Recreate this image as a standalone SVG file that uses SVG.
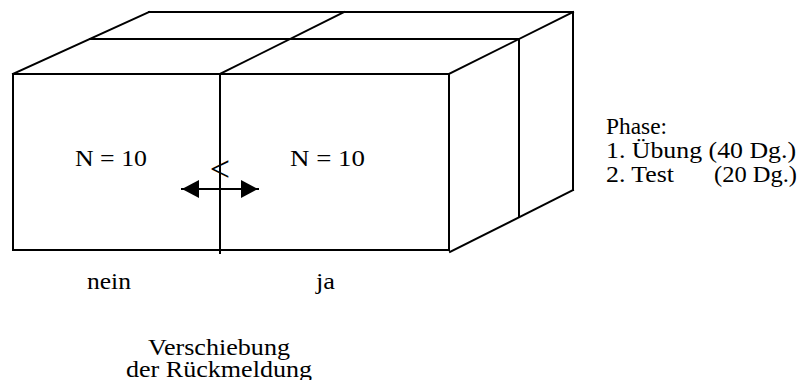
<svg xmlns="http://www.w3.org/2000/svg" width="798" height="380" viewBox="0 0 798 380">
<style>
.ln{stroke:#000;stroke-width:2;fill:none;stroke-linecap:square}
.t{font-family:"Liberation Serif","Times New Roman",serif;font-size:24px;fill:#000}
.c{text-anchor:middle}
</style>
<defs>
<marker id="ah" markerUnits="userSpaceOnUse" viewBox="0 0 17 18" refX="17" refY="9" markerWidth="17" markerHeight="18" orient="auto-start-reverse">
<path d="M0,0 L17,9 L0,18 z" fill="#000"/>
</marker>
</defs>
<rect width="798" height="380" fill="#fff"/>
<g id="box">
<rect class="ln" x="13" y="74" width="436" height="176"/>
<line class="ln" x1="220" y1="74" x2="220" y2="253"/>
<line class="ln" x1="13" y1="74" x2="149" y2="12"/>
<line class="ln" x1="149" y1="12" x2="573" y2="12"/>
<line class="ln" x1="449" y1="74" x2="573" y2="12"/>
<line class="ln" x1="90" y1="39" x2="519" y2="39"/>
<line class="ln" x1="220" y1="74" x2="344" y2="12"/>
<line class="ln" x1="519" y1="39" x2="519" y2="216"/>
<line class="ln" x1="573" y1="12" x2="573" y2="190"/>
<line class="ln" x1="450" y1="252" x2="573" y2="190"/>
</g>
<g id="cell-nein">
<text class="t" x="75" y="166" textLength="72" lengthAdjust="spacingAndGlyphs">N = 10</text>
<text class="t" x="87" y="289" textLength="44" lengthAdjust="spacingAndGlyphs">nein</text>
</g>
<g id="cell-ja">
<text class="t" x="290" y="166" textLength="75" lengthAdjust="spacingAndGlyphs">N = 10</text>
<text class="t" x="316" y="289" textLength="19" lengthAdjust="spacingAndGlyphs">ja</text>
</g>
<g id="connectors">
<line class="ln" x1="182" y1="189" x2="258" y2="189" marker-start="url(#ah)" marker-end="url(#ah)"/>
<text class="t c" x="220" y="181" style="font-size:36px">&lt;</text>
</g>
<g id="axis-label">
<text class="t" x="148" y="355" textLength="142" lengthAdjust="spacingAndGlyphs">Verschiebung</text>
<text class="t" x="126" y="377" textLength="186" lengthAdjust="spacingAndGlyphs">der Rückmeldung</text>
</g>
<g id="phase">
<text class="t" x="606" y="134" textLength="61" lengthAdjust="spacingAndGlyphs">Phase:</text>
<text class="t" x="606" y="158" textLength="190" lengthAdjust="spacingAndGlyphs">1. Übung (40 Dg.)</text>
<text class="t" x="606" y="182"><tspan textLength="68" lengthAdjust="spacingAndGlyphs">2. Test</tspan><tspan x="714" textLength="83" lengthAdjust="spacingAndGlyphs">(20 Dg.)</tspan></text>
</g>
</svg>
